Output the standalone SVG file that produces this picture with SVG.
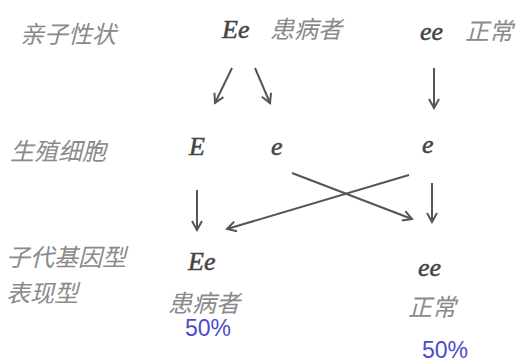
<svg xmlns="http://www.w3.org/2000/svg" width="519" height="362" viewBox="0 0 519 362">
<defs>
<marker id="ah" viewBox="0 0 12 12" refX="10" refY="6" markerWidth="12" markerHeight="12" markerUnits="userSpaceOnUse" orient="auto">
<path d="M1,1 L10,6 L1,11" fill="none" stroke="#555" stroke-width="2"/>
</marker>
<style>
.cn{font-family:"Liberation Serif","Noto Sans CJK SC",serif;font-style:italic;font-size:24px;fill:#8a8a8a}
.lt{font-family:"Liberation Serif",serif;font-style:italic;font-size:26px;fill:#444;stroke:#444;stroke-width:0.5}
.pc{font-family:"Liberation Sans",sans-serif;font-size:23px;fill:#4b4bd0}
.ar{stroke:#555;stroke-width:2;fill:none;marker-end:url(#ah)}
</style>
</defs>
<rect width="519" height="362" fill="#fff"/>
<g id="row-labels">
<text class="cn" x="20" y="43">亲子性状</text>
<text class="cn" x="10" y="160">生殖细胞</text>
<text class="cn" x="6" y="266">子代基因型</text>
<text class="cn" x="6" y="302">表现型</text>
</g>
<g id="parent-Ee"><text class="lt" x="222" y="38">Ee</text><text class="cn" x="270" y="38">患病者</text></g>
<g id="parent-ee"><text class="lt" x="420" y="40">ee</text><text class="cn" x="465" y="40">正常</text></g>
<g id="gamete-E"><text class="lt" x="189" y="155">E</text></g>
<g id="gamete-e1"><text class="lt" x="271" y="155">e</text></g>
<g id="gamete-e2"><text class="lt" x="422" y="153">e</text></g>
<g id="child-Ee"><text class="lt" x="188" y="270">Ee</text><text class="cn" x="168" y="312">患病者</text><text class="pc" x="185" y="336">50%</text></g>
<g id="child-ee"><text class="lt" x="418" y="276">ee</text><text class="cn" x="408" y="316">正常</text><text class="pc" x="422" y="358">50%</text></g>
<g id="connectors">
<line class="ar" x1="232" y1="68" x2="215" y2="103"/>
<line class="ar" x1="255" y1="68" x2="270" y2="103"/>
<line class="ar" x1="434" y1="68" x2="434" y2="108"/>
<line class="ar" x1="197" y1="190" x2="197" y2="230"/>
<line class="ar" x1="292" y1="173" x2="412" y2="219"/>
<line class="ar" x1="409" y1="175" x2="227" y2="229"/>
<line class="ar" x1="432" y1="183" x2="432" y2="222"/>
</g>
</svg>
